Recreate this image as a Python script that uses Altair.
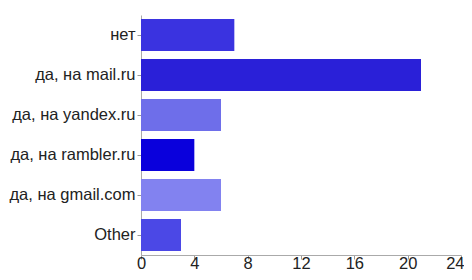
import altair as alt
import pandas as pd

categories = ["нет", "да, на mail.ru", "да, на yandex.ru", "да, на rambler.ru", "да, на gmail.com", "Other"]
values = [7, 21, 6, 4, 6, 3]
colors = ["#3a33e0", "#2a20d8", "#6e6eea", "#0a00dc", "#8282f0", "#4b48e6"]
x_ticks = [0, 4, 8, 12, 16, 20, 24]

df = pd.DataFrame({"cat": categories, "val": values, "color": colors})

chart = alt.Chart(df).mark_bar().encode(
    y=alt.Y("cat:N", sort=categories, title=None,
            scale=alt.Scale(paddingInner=0.2, paddingOuter=0.1),
            axis=alt.Axis(labelFontSize=16.5, labelColor="#222222", labelFont="Liberation Sans",
                          tickSize=4, tickColor="#999999", domainColor="#aaaaaa", labelPadding=2)),
    x=alt.X("val:Q", title=None,
            scale=alt.Scale(domain=[0, 24], nice=False),
            axis=alt.Axis(values=x_ticks, grid=False, labelFontSize=16.5,
                          labelColor="#222222", labelFont="Liberation Sans",
                          labelBaseline="alphabetic",
                          labelAlign=alt.condition("datum.value == 24", alt.value("right"), alt.value("center")),
                          labelOffset=alt.condition("datum.value == 24", alt.value(3), alt.value(0)),
                          tickSize=4, tickColor="#999999", domainColor="#aaaaaa", labelPadding=9)),
    color=alt.Color("color:N", scale=None, legend=None),
).properties(
    width=320, height=240,
    autosize=alt.AutoSizeParams(type="none"),
    padding={"left": 133, "top": 7, "right": 3, "bottom": 17},
).configure_view(stroke=None)

chart.save("out.html", embed_options={"renderer": "svg", "actions": False})
